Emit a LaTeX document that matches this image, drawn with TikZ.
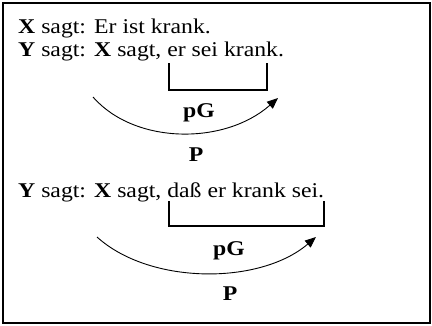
\documentclass[tikz,border=0pt]{standalone}
\usepackage{fontspec}
\setmainfont{Liberation Serif}[FakeStretch=1.13]
\usetikzlibrary{arrows.meta}
\begin{document}
\begin{tikzpicture}[x=1pt,y=-1pt,
  txt/.style={inner sep=0pt, anchor=base west, font=\fontsize{21}{25}\selectfont},
  lbl/.style={inner sep=0pt, anchor=base, font=\fontsize{21}{25}\selectfont\bfseries},
  brk/.style={line width=2pt},
  arcline/.style={line width=0.9pt, -{Triangle[length=11pt,width=9pt]}},
  frame/.style={line width=1.8pt}]
\useasboundingbox (0,0) rectangle (432,325);
\draw[frame] (3,3) rectangle (430,323);
\node[txt] (s1) at (18,33) {\textbf{X} sagt:};
\node[txt] (t1) at (94,33) {Er ist krank.};
\node[txt] (s2) at (18,56) {\textbf{Y} sagt:};
\node[txt] (t2) at (94,56) {\textbf{X} sagt, er sei krank.};
\node[txt] (s3) at (18,197) {\textbf{Y} sagt:};
\node[txt] (t3) at (94,197) {\textbf{X} sagt, daß er krank sei.};
% bracket 1
\coordinate (b1a) at (169,63);
\coordinate (b1b) at (169,90);
\coordinate (b1c) at (267,90);
\coordinate (b1d) at (267,63);
\draw[brk] (b1a) -- (b1b) -- (b1c) -- (b1d);
% bracket 2
\coordinate (b2a) at (169,201);
\coordinate (b2b) at (169,226);
\coordinate (b2c) at (324,226);
\coordinate (b2d) at (324,201);
\draw[brk] (b2a) -- (b2b) -- (b2c) -- (b2d);
% arcs
\coordinate (a1s) at (93,97);
\coordinate (a1e) at (278,98);
\draw[arcline] (a1s) .. controls (135,145) and (225,145) .. (a1e);
\coordinate (a2s) at (97,237);
\coordinate (a2e) at (316,237);
\draw[arcline] (a2s) .. controls (150,285) and (260,285) .. (a2e);
% labels
\node[lbl] (pg1) at (199,117) {pG};
\node[lbl] (p1) at (196,161) {P};
\node[lbl] (pg2) at (229,255) {pG};
\node[lbl] (p2) at (230,300) {P};
\end{tikzpicture}
\end{document}
